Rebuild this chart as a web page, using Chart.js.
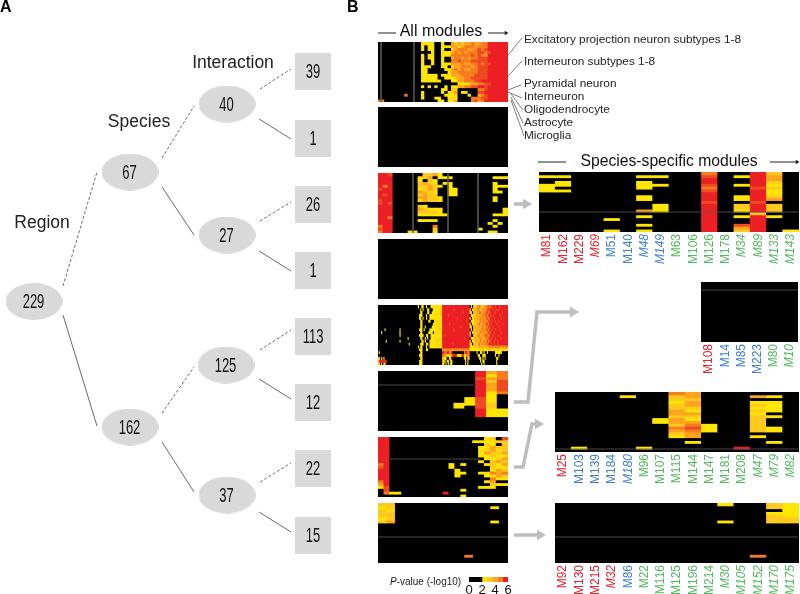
<!DOCTYPE html>
<html>
<head>
<meta charset="utf-8">
<title>Modules</title>
<script src="https://cdn.jsdelivr.net/npm/chart.js@4"></script>
<style>
  body { margin: 0; background: #fff; }
  #page { position: relative; width: 800px; height: 594px; overflow: hidden; }
  canvas { position: absolute; display: block; }
</style>
</head>
<body>
<div id="page"></div>
<script>
// colour level of a heatmap cell: 0 = not significant (black) ... 6 = red
const levelColors = ['#000000', '#ffe600', '#ffc91f', '#fda41e', '#f77b20', '#ee4a23', '#ec2024'];

// rows are the 21 gene sets, each character one module (spaces only group them)
const regionInteraction = [
  '0000000000000 1111 00100 32323343344 666666',
  '0000000000000 1011 00111 33234443444 666666',
  '0000000000000 1011 00100 23444334545 666666',
  '0000000000000 0001 00111 34343444554 566666',
  '0000000000000 1011 00111 44444454543 666666',
  '0000000000000 1011 00100 34434344555 666666',
  '0000000000000 1001 00100 44544455555 666666',
  '0000000000000 1001 00111 33343344545 566666',
  '0000000000000 1110 00110 23344434555 666666',
  '0000000000000 1100 00011 34343344555 666666',
  '0000000000000 1100 00001 33444444555 666666',
  '0000000000000 1111 10111 33344445555 666666',
  '0000000000000 1111 10011 12334455555 666666',
  '0000000000000 1111 11000 11334445566 666666',
  '0000000000000 0000 00000 00111233445 566666',
  '0000000000000 1010 10010 11334455665 666666',
  '0000000000000 0000 00110 22000000445 666666',
  '0000000000000 1000 00101 23011000556 666666',
  '0000000040000 1000 00011 12000100345 666666',
  '0000000000000 1000 11001 21000044455 666666',
  '4400000000000 0000 01101 13000045346 666666'
];
const regionSingle = ['0','0','0','0','0','0','0','0','0','0','0','0','0','0','0','0','0','0','0','0','0'];
const speciesInteraction = [
  '665 00000 02231 000 0000000 000',
  '666 00000 12301 110 0000000 111',
  '666 00000 10210 000 0000000 000',
  '666 00000 23210 110 0000000 100',
  '646 00000 22321 010 0000000 111',
  '566 00000 12320 011 0000000 100',
  '666 00000 32210 011 0000000 110',
  '656 00000 23220 011 0000000 000',
  '666 00000 33221 000 0000000 100',
  '566 00000 13221 000 0000000 100',
  '565 00000 00000 000 0000000 000',
  '666 00000 21000 000 0000000 000',
  '666 00000 32111 000 0000000 001',
  '666 00000 22221 000 0000000 001',
  '666 00000 11111 100 0000000 111',
  '664 00000 00000 000 0000000 000',
  '666 00000 11110 000 0000000 100',
  '666 00000 00000 000 0000001 010',
  '466 00000 00040 000 0000000 100',
  '566 00000 00020 000 0000100 000',
  '466 00011 00010 000 0000001 100'
];
const speciesSingle = ['0','0','0','0','0','0','0','0','0','0','0','0','0','0','0','0','0','0','0','0','0'];
const regionOnly = [
  '0000000000 0000000000 0000000000 0000 0100110010001111111111 666666666666666666666666 010122334322334454556656665666666',
  '0000000000 0000000000 0000000000 0000 0001010001100011111121 666666666656666666666666 101223343233434555665665656666666',
  '0000000000 0000000000 0000000000 0000 0001100001100111112122 666666666666666666566666 110232334434345545666656666656666',
  '0000000000 0000000000 0000000000 0000 0011100010011111121111 666665666666666666666666 011223323334445456565666665666666',
  '0000000000 0000000000 0000000000 0000 0011010010011111211211 666666666666656666666666 101232333434344545666566666566666',
  '0000000000 0000000000 0000000000 0000 0001100000110001122121 666666666666666666666566 011123233434434455656656656666666',
  '0000000000 0000000000 0000000000 0000 0001100000000011112211 666666566666666666666666 101222334334345546566665666656666',
  '0000000000 0000000000 0000000000 0000 0001100100000111121211 666666666666666656666666 110233233243434455665666656666666',
  '0000001000 0000000001 0000000000 0000 0011101000011111111221 666666666656666666666666 010223323344344545656656665666666',
  '0001000000 0000000001 0000000000 0000 0001100000111101122112 666666666666666666666666 101232233433434455566566666566666',
  '0000000000 0000000001 0000000000 0000 0011110011001111111111 665666666666666666666666 100222334323445445665666656666666',
  '0000000000 0000000000 0000001000 0000 0001100101001111211221 666666666666666666656666 011233233342334455656656666566666',
  '0000000100 0000000001 0000000000 0000 0000110100011111122111 666666666666666666666666 101223323433434545566566566666666',
  '0000000000 0000000000 0000000100 0000 0001110011011111111211 666666666566666666666666 110232234334344456566566566666666',
  '0000000000 0000000000 0000000000 0000 0101100010011111112111 666666666666666666666666 111122223232323334344344434334344',
  '0000000000 0000000000 0000000000 0000 0011100011000000000000 343434343343434343434343 111111111222112122121121221122121',
  '0100000000 0000000000 0000000000 0000 0001100000000000000000 664466446000000000046644 000000100110100100000011111100000',
  '0000000000 0000000000 0000000000 0000 0011100000000000000000 443311214666611116611443 000000011001110000000010010000000',
  '1101010000 0000000000 0000000000 0000 0001100000000000000000 221100110000000000021012 000000001101010000000001100000000',
  '1666666600 0000000000 0000000000 0000 0011100000000000000000 321011011000000000001010 000000000101100000000001000000000',
  '1101011000 0000000000 0000000000 0000 0011100000000000000000 110101011000000000001010 000000000010100000000001000000000'
];
const regionSpecies = [
  '000000000 634', '000000000 614', '000000000 534', '000000000 625', '000000000 635',
  '000000000 635', '000000000 635', '000000000 614', '000000000 610', '000000001 510',
  '000000001 510', '000000011 520', '000000010 520', '000000000 611', '000000000 611',
  '000000000 611', '000000000 000', '000000000 000', '000000000 000', '000000000 000',
  '000000000 000'
];
const regionInter = [
  '66 000000000000000 01205', '66 00000000000000 1 11122', '66 000000000000000 02102',
  '66 000000000000000 11322', '66 000000000000000 12312', '66 000000000000000 13223',
  '66 000000000000000 11211', '66 000000000000000 01123', '66 000000000000000 10232',
  '46 0000000000 1 0 1 00 01213', '56 0000000000 1 000 00 02113', '66 00000000000 1 00 00 01323',
  '66 00000000000 1 1 00 11434', '66 00000000000 1 00 00 11324', '66 000000000000000 00411',
  '46 000000000000000 01300', '36 000000000000000 00211', '15 000000000000000 11100',
  '05 000000000000 1 00 00000', '04 11 0000000 6 00000 00000 00', '00 000000000000 1 00 00000'
];
const regionNoInter = [
  '220000000000000', '120000000000010', '210000000000000', '220000000000000', '220000000000000',
  '120000000000000', '230000000000010', '000000000000000', '000000000000000', '000000000000000',
  '000000000000000', '000000000000000', '000000000000000', '000000000000000', '000000000000000',
  '000000000000000', '000000000000000', '000000000000000', '000000000040000', '000000000000000',
  '000000000000000'
];

// species-specific panels
const labelsA = ['M81','M162','M229','M69','M51','M140','M48','M149','M63','M106','M126','M178','M34','M89','M133','M143'];
const colorsA = 'rrrrbbbbggggggggg';
const italicA = ['M69','M48','M149','M34','M89','M133','M143'];
const cellsA = [
  '0000000000 4 0 0 6 2 0',
  '1100001100 5 0 1 6 3 0',
  '0000000000 6 0 0 6 3 0',
  '0100001000 6 0 0 6 2 0',
  '1100001100 5 0 1 6 1 0',
  '1000001000 4 0 0 5 2 0',
  '1100000000 5 0 0 6 1 0',
  '0000000000 6 0 0 6 1 0',
  '0000001000 6 0 1 6 2 0',
  '0000001000 6 0 1 6 3 0',
  '0000000000 5 0 0 5 0 0',
  '0000000100 6 0 2 6 2 0',
  '0000000100 6 0 2 6 2 0',
  '0000003100 6 0 1 6 2 0',
  '0000000000 6 0 0 2 0 0',
  '0000001000 6 0 1 6 1 0',
  '0000100000 6 0 0 6 0 0',
  '0000000000 6 0 0 6 0 0',
  '0000001000 6 0 5 6 0 0',
  '0000000000 6 0 3 6 0 0',
  '0000101000 6 0 2 6 0 1'
];
const labelsB = ['M108','M14','M85','M223','M80','M10'];
const colorsB = 'rbbbgg';
const italicB = ['M10'];
const cellsB = ['000000','000000','000000','000000','000000','000000','000000','000000','000000','000000','000000',
  '000000','000000','000000','000000','000000','000000','000000','000000','000000','000000'];
const labelsC = ['M25','M103','M139','M184','M180','M96','M107','M115','M144','M147','M181','M208','M47','M79','M82'];
const colorsC = 'rbbbbgggggggggg';
const italicC = ['M180','M47','M79','M82'];
const cellsC = [
  '0000000 43 000000',
  '0000100 23 000310',
  '0000000 22 000000',
  '0000000 13 000110',
  '0000000 23 000210',
  '0000000 22 000110',
  '0000000 31 000210',
  '0000000 33 000100',
  '0000000 22 000210',
  '0000001 31 000200',
  '0000001 33 000200',
  '0000000 24 100200',
  '0000000 45 100210',
  '0000000 34 100210',
  '0000000 23 000000',
  '0000000 13 000100',
  '0000000 00 000000',
  '0000000 01 000010',
  '0000000 00 000000',
  '0100010 00 006000',
  '0000000 00 000000'
];
const labelsD = ['M92','M130','M215','M32','M86','M22','M116','M125','M196','M214','M30','M105','M152','M170','M175'];
const colorsD = 'rrrrbgggggggggg';
const italicD = ['M32','M30','M105','M152','M170','M175'];
const cellsD = [
  '0000000000 1 00 2 1',
  '0000000000 0 00 2 1',
  '0000000000 0 00 0 1',
  '0000000000 0 00 1 1',
  '0000000000 0 00 2 1',
  '0000000000 0 00 2 2',
  '0000000000 1 00 2 2',
  '0000000000 0 00 0 0', '0000000000 0 00 0 0', '0000000000 0 00 0 0', '0000000000 0 00 0 0',
  '0000000000 0 00 0 0', '0000000000 0 00 0 0', '0000000000 0 00 0 0', '0000000000 0 00 0 0',
  '0000000000 0 00 0 0', '0000000000 0 00 0 0', '0000000000 0 00 0 0',
  '0000000000 0 04 0 0',
  '0000000000 0 00 0 0', '0000000000 0 00 0 0'
];

// colour key
const keySteps = [2, 0.8, 0.8, 0.8, 0.8, 0.8];
const keyColors = ['#000000', '#ffe600', '#ffc91f', '#fda41e', '#f77b20', '#ec2024'];

// tree of the module counts (panel A)
const ovalX = [34, 130, 130, 227, 227, 226, 227];
const ovalY = [301.5, 172, 427, 104, 235, 365, 495];
const ovalCounts = ['229', '67', '162', '40', '27', '125', '37'];
const boxX = [313, 313, 313, 313, 313, 313, 313, 313];
const boxY = [71.5, 138, 204, 270, 336, 402, 468, 535];
const boxCounts = ['39', '1', '26', '1', '113', '12', '22', '15'];
const dashedEdges = [[63,286,97,172],[162,158,194,106],[260,89,291,69],[260,221,291,202],[162,413,194,367],[260,350,291,330],[260,482,291,463]];
const solidEdges = [[63,315,97,426],[162,187,194,235],[259,119,291,139],[259,251,291,271],[162,442,194,492],[259,379,291,399],[259,512,291,532]];

const page = document.getElementById('page');

function addCanvas(left, top, width, height, zIndex) {
  const canvas = document.createElement('canvas');
  canvas.width = width;
  canvas.height = height;
  canvas.style.left = left + 'px';
  canvas.style.top = top + 'px';
  canvas.style.zIndex = zIndex || 1;
  page.appendChild(canvas);
  return canvas;
}

// black under the cells so the seams between rows do not show white
const blackBack = {
  id: 'blackBack',
  beforeDatasetsDraw(chart) {
    const { ctx, chartArea: a } = chart;
    ctx.fillStyle = '#000';
    ctx.fillRect(a.left, a.top, a.right - a.left, a.bottom - a.top);
  }
};

// a heatmap is a stacked bar chart with one dataset per row
function addHeatmap(rows, box, labels, labelColors, italics) {
  const cells = rows.map((row) => row.replace(/ /g, '').split('').map(Number));
  const cols = labels || cells[0].map((v, i) => String(i));
  const tickColors = { r: '#e5202e', b: '#3f7fd0', g: '#52b95c' };
  const room = labels ? 34 : 0;
  new Chart(addCanvas(box[0], box[1], box[2], box[3] + room), {
    type: 'bar',
    data: {
      labels: cols,
      datasets: cells.map((row) => ({
        data: cols.map(() => 1),
        backgroundColor: cols.map((c, i) => levelColors[row[i] || 0]),
        barPercentage: 1,
        categoryPercentage: 1,
        inflateAmount: 0.4
      }))
    },
    options: {
      responsive: false,
      animation: false,
      events: [],
      layout: { autoPadding: false },
      plugins: { legend: { display: false }, tooltip: { enabled: false } },
      scales: {
        x: {
          display: !!labels,
          stacked: true,
          grid: { display: false, drawTicks: false },
          border: { display: false },
          ticks: {
            autoSkip: false,
            minRotation: 90,
            maxRotation: 90,
            padding: 2,
            color: (ctx) => tickColors[(labelColors || '')[ctx.index]] || '#000',
            font: (ctx) => ({
              family: '"Liberation Sans", Arial, sans-serif',
              size: 12,
              style: italics && italics.includes(cols[ctx.index]) ? 'italic' : 'normal'
            })
          },
          afterFit: (scale) => {
            scale.height = room;
            scale.paddingLeft = 0;
            scale.paddingRight = 0;
          }
        },
        y: { display: false, stacked: true, min: 0, max: rows.length, reverse: true }
      }
    },
    plugins: [blackBack]
  });
}

addHeatmap(regionInteraction, [378, 42, 130, 60]);
addHeatmap(regionSingle, [378, 107, 130, 60]);
addHeatmap(speciesInteraction, [378, 173, 130, 60]);
addHeatmap(speciesSingle, [378, 239, 130, 60]);
addHeatmap(regionOnly, [378, 305, 130, 60]);
addHeatmap(regionSpecies, [378, 371, 130, 60]);
addHeatmap(regionInter, [378, 437, 130, 60]);
addHeatmap(regionNoInter, [378, 503, 130, 60]);
addHeatmap(cellsA, [539, 172, 260, 60], labelsA, colorsA, italicA);
addHeatmap(cellsB, [701, 282, 97, 60], labelsB, colorsB, italicB);
addHeatmap(cellsC, [555, 392, 244, 60], labelsC, colorsC, italicC);
addHeatmap(cellsD, [555, 503, 244, 60], labelsD, colorsD, italicD);

// colour key with its own 0-6 axis
new Chart(addCanvas(459, 577, 60, 17), {
  type: 'bar',
  data: {
    labels: [''],
    datasets: keySteps.map((step, i) => ({
      data: [step],
      backgroundColor: keyColors[i],
      barPercentage: 1,
      categoryPercentage: 1,
      inflateAmount: 0.3
    }))
  },
  options: {
    indexAxis: 'y',
    responsive: false,
    animation: false,
    events: [],
    layout: { autoPadding: false, padding: { left: 10, right: 11 } },
    plugins: { legend: { display: false }, tooltip: { enabled: false } },
    scales: {
      x: {
        stacked: true,
        min: 0,
        max: 6,
        grid: { display: false, drawTicks: false },
        border: { display: false },
        ticks: {
          stepSize: 2,
          padding: 1,
          maxRotation: 0,
          color: '#111',
          font: { family: '"Liberation Sans", Arial, sans-serif', size: 13 }
        },
        afterFit: (scale) => {
          scale.height = 12;
          scale.paddingLeft = 0;
          scale.paddingRight = 0;
        }
      },
      y: { display: false, stacked: true }
    }
  }
});

function nodeImage(width, height, shape) {
  const img = document.createElement('canvas');
  img.width = width;
  img.height = height;
  const ctx = img.getContext('2d');
  ctx.fillStyle = '#d9d9d9';
  if (shape === 'oval') {
    ctx.beginPath();
    ctx.ellipse(width / 2, height / 2, width / 2, height / 2, 0, 0, Math.PI * 2);
    ctx.fill();
  } else {
    ctx.fillRect(0, 0, width, height);
  }
  return img;
}

const edgeData = (edge) => [{ x: edge[0], y: edge[1] }, { x: edge[2], y: edge[3] }];
const treeLine = (edge, dash) => ({
  type: 'line',
  data: edgeData(edge),
  borderColor: '#444',
  borderWidth: 0.8,
  borderDash: dash,
  pointRadius: 0
});
const thinLine = (edge) => ({
  type: 'line',
  data: edgeData(edge),
  borderColor: '#5a5a5a',
  borderWidth: 0.8,
  pointRadius: 0
});

// wide grey arrows between the panels
const arrowLine = (points) => ({
  type: 'line',
  data: points.map((p) => ({ x: p[0], y: p[1] })),
  borderColor: '#bdbdbd',
  borderWidth: 3.5,
  tension: 0,
  pointStyle: 'triangle',
  pointRotation: 90,
  pointBackgroundColor: '#bdbdbd',
  pointBorderWidth: 0,
  pointRadius: points.map((p, i) => (i === points.length - 1 ? 6 : 0))
});
const headLine = (edge) => ({
  type: 'line',
  data: edgeData(edge),
  borderColor: '#222',
  borderWidth: 1,
  pointStyle: 'triangle',
  pointRotation: 90,
  pointBackgroundColor: '#222',
  pointBorderWidth: 0,
  pointRadius: [0, 2.5]
});

// every text of the figure, placed through the overlay scales
const texts = [
  ['A', 0, 8, 'bold 16px', 'left', '#000'],
  ['B', 347, 8, 'bold 16px', 'left', '#000'],
  ['Region', 42, 223, '17.5px', 'center', '#222'],
  ['Species', 139, 122, '17.5px', 'center', '#222'],
  ['Interaction', 233, 63, '17.5px', 'center', '#222'],
  ['All modules', 441, 32, '16px', 'center', '#111'],
  ['Species-specific modules', 669, 162, '15.7px', 'center', '#111'],
  ['Excitatory projection neuron subtypes 1-8', 524, 39.5, '11.8px', 'left', '#222'],
  ['Interneuron subtypes 1-8', 524, 62, '11.8px', 'left', '#222'],
  ['Pyramidal neuron', 524, 84, '11.8px', 'left', '#222'],
  ['Interneuron', 524, 97, '11.8px', 'left', '#222'],
  ['Oligodendrocyte', 524, 110, '11.8px', 'left', '#222'],
  ['Astrocyte', 524, 122.5, '11.8px', 'left', '#222'],
  ['Microglia', 524, 135.5, '11.8px', 'left', '#222'],
  ['-value (-log10)', 396.7, 582, '10px', 'left', '#222']
];

const labelPlugin = {
  id: 'labelPlugin',
  afterDatasetsDraw(chart) {
    const { ctx, scales } = chart;
    ctx.save();
    ctx.textBaseline = 'middle';
    texts.forEach((t) => {
      ctx.font = t[3] + ' "Liberation Sans", Arial, sans-serif';
      ctx.textAlign = t[4];
      ctx.fillStyle = t[5];
      ctx.fillText(t[0], scales.x.getPixelForValue(t[1]), scales.y.getPixelForValue(t[2]));
    });
    ctx.font = 'italic 10px "Liberation Sans", Arial, sans-serif';
    ctx.textAlign = 'left';
    ctx.fillStyle = '#222';
    ctx.fillText('P', scales.x.getPixelForValue(390), scales.y.getPixelForValue(582));
    // the counts are set in a condensed face
    ctx.font = '20px "Liberation Sans", sans-serif';
    ctx.textAlign = 'center';
    ctx.fillStyle = '#111';
    const drawCount = (c, x, y) => {
      ctx.save();
      ctx.translate(scales.x.getPixelForValue(x), scales.y.getPixelForValue(y));
      ctx.scale(0.65, 1);
      ctx.fillText(c, 0, 0);
      ctx.restore();
    };
    ovalCounts.forEach((c, i) => drawCount(c, ovalX[i] - 0.5, ovalY[i] + 1));
    boxCounts.forEach((c, i) => drawCount(c, boxX[i], boxY[i] + 1));
    ctx.restore();
  }
};

// overlay covering the page, its scales run in page pixels
new Chart(addCanvas(0, 0, 800, 594, 2), {
  type: 'scatter',
  data: {
    datasets: [
      { data: ovalX.map((x, i) => ({ x, y: ovalY[i] })), pointStyle: nodeImage(57, 37, 'oval') },
      { data: boxX.map((x, i) => ({ x, y: boxY[i] })), pointStyle: nodeImage(36, 37, 'box') },
      ...dashedEdges.map((e) => treeLine(e, [3, 2])),
      ...solidEdges.map((e) => treeLine(e, [])),
      // leader lines to the gene set names
      ...[[508,55,522,38],[508,76,522,61],[508,90,521,85],[508,92,522,98],[511,94,523,110],[511,97,523,123],[511,100,524,136]].map(thinLine),
      // faint separators inside the heatmaps
      ...[[381,42,381,102],[414,42,414,102],[413,173,413,233],[448,173,448,233],[478,173,478,233],[378,385,474,385],[390,459,480,459],
        [378,537,508,537],[539,212,799,212],[701,290,798,290],[555,449,798,449],[555,537,798,537]].map(thinLine),
      ...[[378,33,396,33],[538,162,566,162]].map((e) => ({ ...thinLine(e), borderColor: '#222', borderWidth: 1 })),
      ...[[488,33,506,33],[770,162,797,162]].map(headLine),
      arrowLine([[514,204],[526,204]]),
      arrowLine([[514,402],[528,402],[537,312],[573,312]]),
      arrowLine([[514,467],[523,467],[532,424],[538,424]]),
      arrowLine([[514,535],[540,535]])
    ]
  },
  options: {
    responsive: false,
    animation: false,
    events: [],
    layout: { autoPadding: false },
    plugins: { legend: { display: false }, tooltip: { enabled: false } },
    scales: {
      x: { type: 'linear', display: false, min: 0, max: 800 },
      y: { type: 'linear', display: false, min: 0, max: 594, reverse: true }
    }
  },
  plugins: [labelPlugin]
});
</script>
</body>
</html>
